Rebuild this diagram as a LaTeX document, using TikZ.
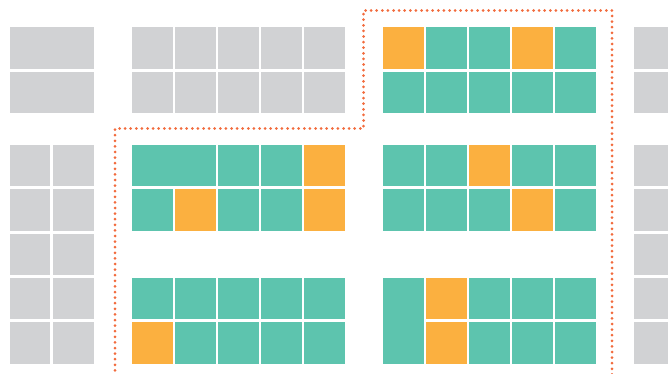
\documentclass[tikz,border=0pt]{standalone}
\usetikzlibrary{calc}
\definecolor{cgrey}{HTML}{D1D2D4}
\definecolor{cteal}{HTML}{5DC4AE}
\definecolor{corange}{HTML}{FBB040}
\definecolor{cdot}{HTML}{F26B3D}
\tikzset{
  grey/.style={fill=cgrey},
  teal/.style={fill=cteal},
  orng/.style={fill=corange},
  selline/.style={draw=cdot, line width=3pt, line cap=round, dash pattern=on 0pt off 5.6pt}
}
% \cellbox{style}{x1}{y1}{x2}{y2}
\newcommand{\cellbox}[5]{\fill[#1] (#2,#3) rectangle (#4,#5);}
\begin{document}
\begin{tikzpicture}[x=1pt,y=-1pt]
\useasboundingbox (0,0) rectangle (668,374);
\clip (0,0) rectangle (668,374);
% ---------- top-left grey (wide cells)
\cellbox{grey}{10}{27}{94}{69}
\cellbox{grey}{10}{72}{94}{113}
% ---------- top-middle grey 5x2
\foreach \x in {132,175,218,261,304}{
  \cellbox{grey}{\x}{27}{\x+40.5}{69}
  \cellbox{grey}{\x}{72}{\x+40.5}{113}
}
% ---------- left grey 2x5
\foreach \y/\h in {145/186,189/231,234/275,278/319,322/364}{
  \cellbox{grey}{10}{\y}{50}{\h}
  \cellbox{grey}{53}{\y}{94}{\h}
}
% ---------- right grey
\cellbox{grey}{634}{27}{675}{69}
\cellbox{grey}{634}{72}{675}{113}
\foreach \y/\h in {145/186,189/231,234/275,278/319,322/364}{
  \cellbox{grey}{634}{\y}{675}{\h}
}
% ---------- top-right block (selected)
\cellbox{orng}{383}{27}{423.5}{69}
\cellbox{teal}{426}{27}{466.5}{69}
\cellbox{teal}{469}{27}{509.5}{69}
\cellbox{orng}{512}{27}{552.5}{69}
\cellbox{teal}{555}{27}{596}{69}
\foreach \x in {383,426,469,512}{\cellbox{teal}{\x}{72}{\x+40.5}{113}}
\cellbox{teal}{555}{72}{596}{113}
% ---------- middle-left block
\cellbox{teal}{132}{145}{215.5}{186}
\cellbox{teal}{218}{145}{258.5}{186}
\cellbox{teal}{261}{145}{301.5}{186}
\cellbox{orng}{304}{145}{345}{186}
\cellbox{teal}{132}{189}{172.5}{231}
\cellbox{orng}{175}{189}{215.5}{231}
\cellbox{teal}{218}{189}{258.5}{231}
\cellbox{teal}{261}{189}{301.5}{231}
\cellbox{orng}{304}{189}{345}{231}
% ---------- middle-right block
\cellbox{teal}{383}{145}{423.5}{186}
\cellbox{teal}{426}{145}{466.5}{186}
\cellbox{orng}{469}{145}{509.5}{186}
\cellbox{teal}{512}{145}{552.5}{186}
\cellbox{teal}{555}{145}{596}{186}
\cellbox{teal}{383}{189}{423.5}{231}
\cellbox{teal}{426}{189}{466.5}{231}
\cellbox{teal}{469}{189}{509.5}{231}
\cellbox{orng}{512}{189}{552.5}{231}
\cellbox{teal}{555}{189}{596}{231}
% ---------- bottom-left block
\foreach \x in {132,175,218,261}{\cellbox{teal}{\x}{278}{\x+40.5}{319}}
\cellbox{teal}{304}{278}{345}{319}
\cellbox{orng}{132}{322}{172.5}{364}
\foreach \x in {175,218,261}{\cellbox{teal}{\x}{322}{\x+40.5}{364}}
\cellbox{teal}{304}{322}{345}{364}
% ---------- bottom-right block
\cellbox{teal}{383}{278}{423.5}{364}
\cellbox{orng}{426}{278}{466.5}{319}
\cellbox{orng}{426}{322}{466.5}{364}
\foreach \x in {469,512}{
  \cellbox{teal}{\x}{278}{\x+40.5}{319}
  \cellbox{teal}{\x}{322}{\x+40.5}{364}
}
\cellbox{teal}{555}{278}{596}{319}
\cellbox{teal}{555}{322}{596}{364}
% ---------- selection outline
\coordinate (s1) at (115,376);
\coordinate (s2) at (115,128.5);
\coordinate (s3) at (363.5,128.5);
\coordinate (s4) at (363.5,10.5);
\coordinate (s5) at (612,10.5);
\coordinate (s6) at (612,376);
\draw[selline] (s1) -- (s2) -- (s3) -- (s4) -- (s5) -- (s6);
\end{tikzpicture}
\end{document}
